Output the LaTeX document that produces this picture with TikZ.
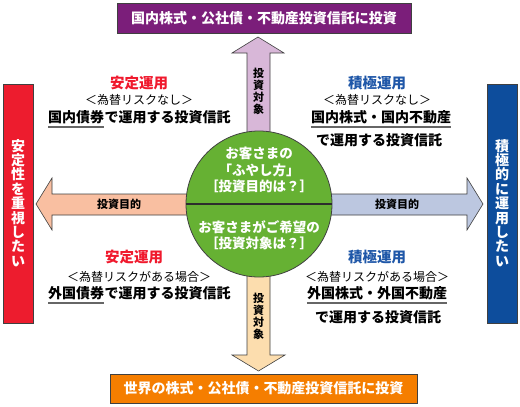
\documentclass[tikz,border=0pt]{standalone}
\usepackage{fontspec}
\setmainfont{Noto Sans CJK JP}
\newfontfamily\jp{Noto Sans CJK JP}
\definecolor{cpurple}{HTML}{7B1E7A}
\definecolor{cuparrow}{HTML}{D8B7D8}
\definecolor{cgreen}{HTML}{66B133}
\definecolor{cleft}{HTML}{F9BFA1}
\definecolor{cright}{HTML}{BCC7E0}
\definecolor{cdown}{HTML}{FCDDAE}
\definecolor{corange}{HTML}{F57E00}
\definecolor{cred}{HTML}{ED1C2E}
\definecolor{cblue}{HTML}{0D4D9C}
\definecolor{credtxt}{HTML}{F0192D}
\definecolor{cbluetxt}{HTML}{1F57A8}
\definecolor{cedge}{HTML}{404040}
\definecolor{culine}{HTML}{666666}
\begin{document}
\begin{tikzpicture}[x=1pt,y=-1pt,
  box/.style={draw=cedge,line width=0.8pt},
  arr/.style={draw=cedge,line width=0.6pt},
  wt/.style={text=white,font=\jp\bfseries\fontsize{14}{16}\selectfont,inner sep=0pt},
  bt/.style={text=black,font=\jp\bfseries\fontsize{14}{16}\selectfont,inner sep=0pt},
  ht/.style={font=\jp\bfseries\fontsize{14.5}{16}\selectfont,inner sep=0pt},
  st/.style={text=black,font=\jp\fontsize{12}{14}\selectfont,inner sep=0pt},
  lt/.style={text=black,font=\jp\bfseries\fontsize{11}{12}\selectfont,inner sep=0pt},
  ct/.style={text=white,font=\jp\bfseries\fontsize{13.5}{16}\selectfont,inner sep=0pt},
  ul/.style={draw=culine,line width=1.8pt}]
\useasboundingbox (0,0) rectangle (520,407);
\fill[white] (0,0) rectangle (520,407);
% side boxes
\draw[box,fill=cred] (3,84) rectangle (33,323);
\draw[box,fill=cblue] (487,84) rectangle (517,323);
\node[wt,align=center,font=\jp\bfseries\fontsize{14}{14.4}\selectfont] (lbox) at (18,203) {安\\定\\性\\を\\重\\視\\し\\た\\い};
\node[wt,align=center,font=\jp\bfseries\fontsize{14}{14.4}\selectfont] (rbox) at (502,203) {積\\極\\的\\に\\運\\用\\し\\た\\い};
% top/bottom boxes
\draw[box,fill=cpurple] (117,3) rectangle (411,33);
\node[wt] (top) at (264,18.5) {国内株式・公社債・不動産投資信託に投資};
\draw[box,fill=corange] (110,374) rectangle (417,403);
\node[wt] (bot) at (263.5,388.5) {世界の株式・公社債・不動産投資信託に投資};
% arrows
\draw[arr,fill=cuparrow] (247,150) -- (247,53) -- (232,53) -- (258,37) -- (284,53) -- (270,53) -- (270,150) -- cycle;
\draw[arr,fill=cdown] (247,260) -- (247,355) -- (232,355) -- (258.5,371) -- (285,355) -- (270,355) -- (270,260) -- cycle;
\draw[arr,fill=cleft] (200,194) -- (52,194) -- (52,178) -- (36,204) -- (52,230) -- (52,215) -- (200,215) -- cycle;
\draw[arr,fill=cright] (320,194) -- (467,194) -- (467,178) -- (483,204) -- (467,230) -- (467,215) -- (320,215) -- cycle;
\node[lt,align=center,font=\jp\bfseries\fontsize{11}{12}\selectfont] (uplab) at (258.5,91) {投\\資\\対\\象};
\node[lt,align=center,font=\jp\bfseries\fontsize{11}{12}\selectfont] (dnlab) at (258.5,316) {投\\資\\対\\象};
\node[lt] (lflab) at (119,204.5) {投資目的};
\node[lt] (rtlab) at (397,204.5) {投資目的};
% circle
\node[circle,draw=cedge,line width=0.8pt,fill=cgreen,minimum size=146pt,inner sep=0pt] (c) at (259,204) {};
\draw[draw=cedge!70!black,line width=1.2pt] (c.west) -- (c.east);
\node[ct] at (259,153) {お客さまの};
\node[ct] at (259,170) {「ふやし方」};
\node[ct] at (259,186.5) {［投資目的は？］};
\node[ct] at (259,227) {お客さまがご希望の};
\node[ct] at (259,243.5) {［投資対象は？］};
% upper left
\node[ht,text=credtxt] at (139,83) {安定運用};
\node[st] at (139,100) {＜為替リスクなし＞};
\node[bt,anchor=west] (ul1) at (48,117) {国内債券};
\node[bt,anchor=west] at (ul1.east) {で運用する投資信託};
\draw[ul] ([yshift=-3pt]ul1.south west) -- ([yshift=-3pt]ul1.south east);
% upper right
\node[ht,text=cbluetxt] at (377,83) {積極運用};
\node[st] at (377,100) {＜為替リスクなし＞};
\node[bt] (ur1) at (381,117) {国内株式・国内不動産};
\draw[ul] ([yshift=-3pt]ur1.south west) -- ([yshift=-3pt]ur1.south east);
\node[bt] at (379,140) {で運用する投資信託};
% lower left
\node[ht,text=credtxt] at (134,257) {安定運用};
\node[st] at (139,277) {＜為替リスクがある場合＞};
\node[bt,anchor=west] (ll1) at (48,293) {外国債券};
\node[bt,anchor=west] at (ll1.east) {で運用する投資信託};
\draw[ul] ([yshift=-3pt]ll1.south west) -- ([yshift=-3pt]ll1.south east);
% lower right
\node[ht,text=cbluetxt] at (377,257) {積極運用};
\node[st] at (377,277) {＜為替リスクがある場合＞};
\node[bt] (lr1) at (377,293) {外国株式・外国不動産};
\draw[ul] ([yshift=-3pt]lr1.south west) -- ([yshift=-3pt]lr1.south east);
\node[bt] at (378,317) {で運用する投資信託};
\end{tikzpicture}
\end{document}
